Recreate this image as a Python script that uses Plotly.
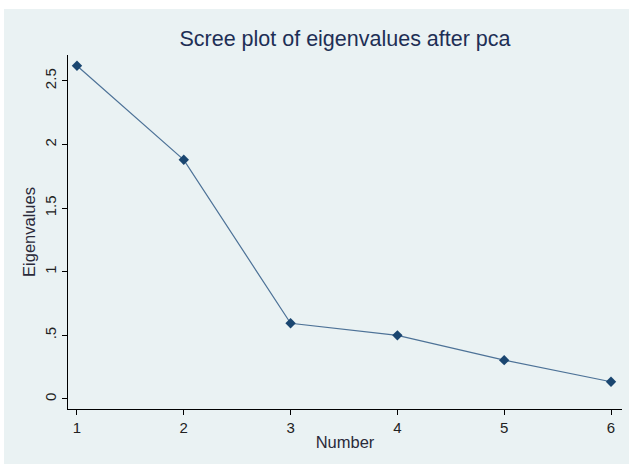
import plotly.graph_objects as go

numbers = [1, 2, 3, 4, 5, 6]
eigenvalues = [2.62, 1.88, 0.595, 0.50, 0.305, 0.135]
y_tickvals = [0, 0.5, 1, 1.5, 2, 2.5]
y_ticktext = ["0", ".5", "1", "1.5", "2", "2.5"]
x_tickvals = [1, 2, 3, 4, 5, 6]
caption = "Figure 5: Indicator for intermediation and"

W, H = 629, 464
L, R, T, B = 68, 7, 55, 55
pw, ph = W - L - R, H - T - B

def px_x(p):
    return (p - L) / pw

def px_y(p):
    return (H - B - p) / ph

fig = go.Figure()
fig.add_trace(go.Scatter(
    x=numbers, y=eigenvalues, mode="lines+markers",
    line=dict(color="#4d7297", width=1.2),
    marker=dict(symbol="diamond", size=8, color="#1a4670"),
    showlegend=False,
))
# page caption above the chart, cut off by the top edge as in the reference
fig.add_trace(go.Scatter(
    x=[px_x(54)], y=[px_y(-6.5)], mode="text", text=[caption],
    textposition="middle right", cliponaxis=False, hoverinfo="skip",
    textfont=dict(family="Liberation Serif, Times New Roman", size=30, color="#000000"),
    xaxis="x2", yaxis="y2", showlegend=False,
))

fig.update_layout(
    width=W, height=H,
    margin=dict(l=L, r=R, t=T, b=B),
    paper_bgcolor="white",
    plot_bgcolor="white",
    font=dict(family="Liberation Sans, Arial", color="#222222", size=15),
    title=dict(text="Scree plot of eigenvalues after pca", x=0.5, xanchor="center",
               xref="paper", y=1 - 38.5 / H, yanchor="middle",
               font=dict(size=21.5, color="#1e2f55")),
    shapes=[dict(type="rect", xref="paper", yref="paper", layer="below",
                 x0=px_x(4), x1=px_x(640), y0=px_y(9), y1=px_y(480),
                 fillcolor="#eaf2f3", line=dict(width=0))],
    xaxis=dict(range=[0.916, 6.103], tickvals=x_tickvals, showgrid=False, zeroline=False,
               showline=True, linecolor="#000000", linewidth=1.2,
               ticks="outside", ticklen=5, tickcolor="#000000",
               tickfont=dict(size=15),
               title=dict(text="Number", standoff=1, font=dict(size=16.5, color="#2a2a3a"))),
    yaxis=dict(range=[-0.079, 2.704], tickvals=y_tickvals, ticktext=y_ticktext,
               tickangle=-90, showgrid=True, gridcolor="#eaf2f3", gridwidth=1,
               zeroline=False, showline=True, linecolor="#000000", linewidth=1.2,
               ticks="outside", ticklen=5, tickcolor="#000000",
               tickfont=dict(size=15),
               title=dict(text="Eigenvalues", standoff=2, font=dict(size=16.5, color="#2a2a3a"))),
    xaxis2=dict(overlaying="x", range=[0, 1], visible=False, fixedrange=True),
    yaxis2=dict(overlaying="y", range=[0, 1], visible=False, fixedrange=True),
)

fig.write_html("out.html")
